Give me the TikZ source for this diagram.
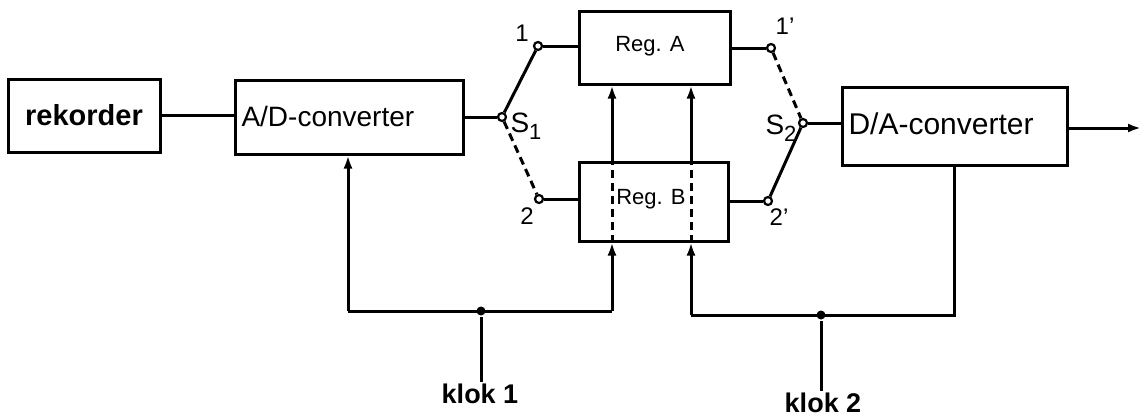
\documentclass[tikz,border=0pt]{standalone}
\usepackage{fontspec}
\setmainfont{Liberation Sans}
\usetikzlibrary{arrows.meta}
\begin{document}
\begin{tikzpicture}[x=1pt,y=-1pt,line width=3pt,
  box/.style={draw,line width=3pt,inner sep=0pt},
  term/.style={draw,circle,fill=white,inner sep=0pt,minimum size=8pt,line width=2.2pt},
  dotn/.style={circle,fill=black,inner sep=0pt,minimum size=9pt},
  arr/.style={-{Latex[length=13pt,width=9pt]}},
  dsh/.style={dash pattern=on 8pt off 5pt},
  lbl/.style={inner sep=0pt,font=\fontsize{24}{26}\selectfont},
  big/.style={inner sep=0pt,font=\fontsize{28}{30}\selectfont}]
\useasboundingbox (0,0) rectangle (1143,418);
% boxes
\node[box,minimum width=152pt,minimum height=73pt,font=\fontsize{29}{30}\selectfont\bfseries] (rek) at (84,115.5) {rekorder};
\node[box,minimum width=228pt,minimum height=74pt] (ad) at (349,117) {};
\node[big,anchor=west] (adt) at (240,116) {A/D-converter};
\node[box,minimum width=151pt,minimum height=73pt] (rega) at (654.5,47.5) {};
\node[lbl,font=\fontsize{22}{24}\selectfont] (regat) at (650,46) {Reg. A};
\node[box,minimum width=149pt,minimum height=79pt] (regb) at (653.5,201.5) {};
\node[lbl,font=\fontsize{22}{24}\selectfont] (regbt) at (651,199) {Reg. B};
\node[box,minimum width=225pt,minimum height=78pt] (da) at (954.5,126) {};
\node[big,anchor=west,font=\fontsize{30}{32}\selectfont] (dat) at (847,124) {D/A-converter};
% switch terminals
\node[term] (p1) at (502,117) {};
\node[term] (t1) at (538,46) {};
\node[term] (t2) at (539,199) {};
\node[term] (p2) at (803,123) {};
\node[term] (u1) at (771,48) {};
\node[term] (u2) at (768,201) {};
\node[lbl] (l1) at (522,33) {1};
\node[lbl] (l2) at (527,216) {2};
\node[lbl] (l1p) at (785,26) {1'};
\node[lbl] (l2p) at (779,217) {2'};
\node[big] (s1) at (526,126) {S\raisebox{-7pt}{\fontsize{22}{24}\selectfont 1}};
\node[big] (s2) at (781,128) {S\raisebox{-7pt}{\fontsize{22}{24}\selectfont 2}};
% clock nodes
\coordinate (c1l) at (348,311);
\coordinate (c1r) at (612,311);
\node[dotn] (k1) at (481,311) {};
\node[big,font=\fontsize{27}{28}\selectfont\bfseries,anchor=north] (klok1) at (480,382) {klok 1};
\coordinate (c2l) at (691,315);
\coordinate (c2r) at (954,315);
\node[dotn] (k2) at (821,315) {};
\node[big,font=\fontsize{27}{28}\selectfont\bfseries,anchor=north] (klok2) at (823,391) {klok 2};
\coordinate (out) at (1141,128);
% signal path
\draw (rek.east) -- (rek.east -| ad.west);
\draw (ad.east |- p1) -- (p1);
\draw (p1) -- (t1);
\draw[dsh] (p1) -- (t2);
\draw (t1) -- (t1 -| rega.west);
\draw (t2) -- (t2 -| regb.west);
\draw (rega.east |- u1) -- (u1);
\draw (regb.east |- u2) -- (u2);
\draw[dsh] (u1) -- (p2);
\draw (p2) -- (u2);
\draw (p2) -- (p2 -| da.west);
\draw[arr] (da.east |- out) -- (out);
% clock 1
\draw[arr] (c1l) -- (c1l |- ad.south);
\draw (c1l) -- (c1r);
\draw[arr] (c1r) -- (c1r |- regb.south);
\draw[dsh] (c1r |- regb.south) -- (c1r |- regb.north);
\draw[arr] (c1r |- regb.north) -- (c1r |- rega.south);
\draw (k1) -- (klok1.north -| k1);
% clock 2
\draw (c2r |- da.south) -- (c2r) -- (c2l);
\draw[arr] (c2l) -- (c2l |- regb.south);
\draw[dsh] (c2l |- regb.south) -- (c2l |- regb.north);
\draw[arr] (c2l |- regb.north) -- (c2l |- rega.south);
\draw (k2) -- (klok2.north -| k2);
\end{tikzpicture}
\end{document}
